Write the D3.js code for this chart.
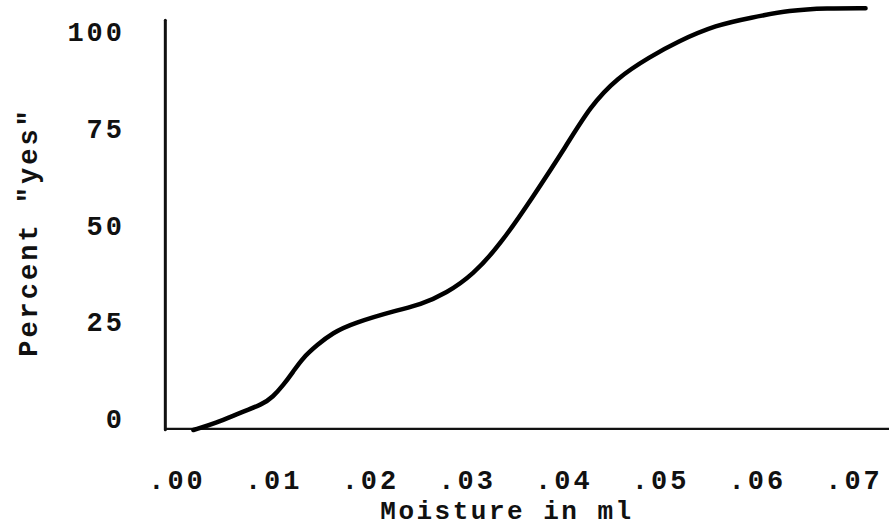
<!DOCTYPE html>
<html>
<head>
<meta charset="utf-8">
<style>
body { margin: 0; background: #fff; }
text { font-family: "Liberation Mono", monospace; font-weight: bold; fill: #111; }
</style>
</head>
<body>
<svg id="chart" width="889" height="527"></svg>
<script src="https://cdn.jsdelivr.net/npm/d3@7"></script>
<script>
// values
var moisture = [0.0019, 0.0042, 0.0067, 0.0091, 0.0101, 0.0112, 0.0122, 0.0132, 0.0147, 0.0163,
  0.0184, 0.0230, 0.0253, 0.0281, 0.0308, 0.0336, 0.0370, 0.0405, 0.0429, 0.0457,
  0.0491, 0.0519, 0.0560, 0.0595, 0.0636, 0.0674, 0.0714];
var percentYes = [-3.1, -1.3, 1.3, 3.6, 5.4, 8.5, 11.9, 15.5, 18.9, 22.0,
  24.5, 27.9, 29.2, 32.3, 37.0, 44.7, 57.1, 70.5, 80.4, 87.9,
  93.3, 97.2, 101.6, 103.4, 105.4, 105.9, 105.9];
var xTicks = [0, 0.01, 0.02, 0.03, 0.04, 0.05, 0.06, 0.07];
var yTicks = [0, 25, 50, 75, 100];
var xExtent = [-0.001, 0.074];   // where the drawn axis lines run
var yExtent = [-2.8, 102.8];

var svg = d3.select("#chart");

var x = d3.scaleLinear().domain([0, 0.07]).range([175, 852]);
var y = d3.scaleLinear().domain([0, 100]).range([418, 31]);

// axis lines
svg.append("line")
  .attr("x1", x(xExtent[0])).attr("x2", x(xExtent[1]))
  .attr("y1", y(yExtent[0])).attr("y2", y(yExtent[0]))
  .attr("stroke", "#111").attr("stroke-width", 2.2);

svg.append("line")
  .attr("x1", x(xExtent[0])).attr("x2", x(xExtent[0]))
  .attr("y1", y(yExtent[0]) + 1).attr("y2", y(yExtent[1]))
  .attr("stroke", "#111").attr("stroke-width", 3)
  .attr("stroke-linecap", "round");

// x tick labels
var xAxis = d3.axisBottom(x)
  .tickValues(xTicks)
  .tickSize(0)
  .tickFormat(function(d) { return d3.format(".2f")(d).replace(/^0/, ""); });

var gx = svg.append("g")
  .attr("transform", "translate(0," + y(yExtent[0]) + ")")
  .call(xAxis);
gx.select(".domain").remove();
gx.selectAll("text")
  .attr("y", 60).attr("dy", 0).attr("dx", 1.5)
  .attr("font-size", 27).attr("letter-spacing", 3)
  .attr("font-family", null).attr("fill", "#111");

// y tick labels
var yAxis = d3.axisLeft(y).tickValues(yTicks).tickSize(0);
var gy = svg.append("g")
  .attr("transform", "translate(125,0)")
  .call(yAxis);
gy.select(".domain").remove();
gy.selectAll("text")
  .attr("x", 0).attr("dy", "0.36em")
  .attr("font-size", 27).attr("letter-spacing", 3)
  .attr("font-family", null).attr("fill", "#111");

// the curve
var line = d3.line()
  .x(function(d, i) { return x(moisture[i]); })
  .y(function(d) { return y(d); })
  .curve(d3.curveBasis);

svg.append("path")
  .datum(percentYes)
  .attr("d", line)
  .attr("fill", "none")
  .attr("stroke", "#000")
  .attr("stroke-width", 4.5)
  .attr("stroke-linecap", "round");

// titles
svg.append("text")
  .attr("x", 507).attr("y", 519)
  .attr("text-anchor", "middle")
  .attr("font-size", 26).attr("letter-spacing", 2.5)
  .text("Moisture in ml");

svg.append("text")
  .attr("transform", "translate(37,232) rotate(-90)")
  .attr("text-anchor", "middle")
  .attr("font-size", 27).attr("letter-spacing", 3)
  .text("Percent \"yes\"");
</script>
</body>
</html>
